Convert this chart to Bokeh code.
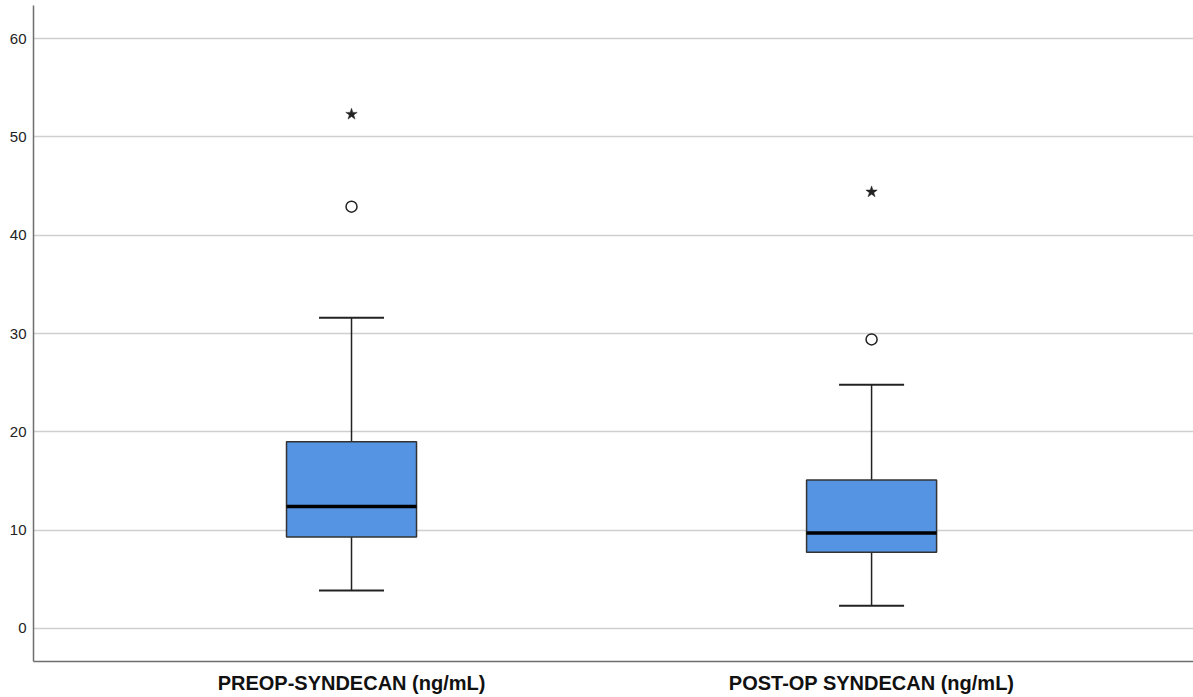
from bokeh.plotting import figure
from bokeh.models import FixedTicker, Range1d
from bokeh.embed import file_html
from bokeh.resources import INLINE

# Data
categories = ["PREOP-SYNDECAN (ng/mL)", "POST-OP SYNDECAN (ng/mL)"]
positions = [1, 2]
whisker_low = [3.86, 2.32]
q1 = [9.3, 7.75]
median = [12.4, 9.7]
q3 = [19.0, 15.1]
whisker_high = [31.6, 24.8]
outlier_circle = [42.9, 29.4]
outlier_star = [52.3, 44.4]
y_ticks = [0, 10, 20, 30, 40, 50, 60]

BOX_W = 0.25
CAP_W = 0.125

p = figure(width=1193, height=697, output_backend="svg", toolbar_location=None,
           x_range=Range1d(0.3885, 2.619), y_range=Range1d(-3.36, 63.36),
           min_border_left=33, min_border_right=0, min_border_top=5, min_border_bottom=36)
p.outline_line_color = None
p.background_fill_color = "white"
p.border_fill_color = "white"

# grid
p.xgrid.grid_line_color = None
p.ygrid.grid_line_color = "#cfcfcf"
p.ygrid.grid_line_width = 1.6
p.ygrid.ticker = FixedTicker(ticks=y_ticks)

# axes
p.yaxis.ticker = FixedTicker(ticks=y_ticks)
p.yaxis.major_tick_line_color = None
p.yaxis.minor_tick_line_color = None
p.yaxis.major_tick_out = 0
p.yaxis.major_tick_in = 0
p.yaxis.minor_tick_out = 0
p.yaxis.axis_line_color = "#6e6e6e"
p.yaxis.axis_line_width = 1.5
p.yaxis.major_label_text_font = "Liberation Sans"
p.yaxis.major_label_text_font_size = "15px"
p.yaxis.major_label_text_color = "#222222"
p.yaxis.major_label_standoff = 7

p.xaxis.ticker = FixedTicker(ticks=positions)
p.xaxis.major_label_overrides = {pos: c for pos, c in zip(positions, categories)}
p.xaxis.major_tick_line_color = None
p.xaxis.minor_tick_line_color = None
p.xaxis.major_tick_out = 0
p.xaxis.major_tick_in = 0
p.xaxis.minor_tick_out = 0
p.xaxis.axis_line_color = "#6e6e6e"
p.xaxis.axis_line_width = 1.5
p.xaxis.major_label_text_font = "Liberation Sans"
p.xaxis.major_label_text_font_size = "20px"
p.xaxis.major_label_text_font_style = "bold"
p.xaxis.major_label_text_color = "#111111"
p.xaxis.major_label_standoff = 10

# whiskers
p.segment(x0=positions, y0=q3, x1=positions, y1=whisker_high, line_color="#222222", line_width=1.5)
p.segment(x0=positions, y0=whisker_low, x1=positions, y1=q1, line_color="#222222", line_width=1.5)
caps_x0 = [x - CAP_W / 2 for x in positions]
caps_x1 = [x + CAP_W / 2 for x in positions]
p.segment(x0=caps_x0, y0=whisker_high, x1=caps_x1, y1=whisker_high, line_color="#222222", line_width=2)
p.segment(x0=caps_x0, y0=whisker_low, x1=caps_x1, y1=whisker_low, line_color="#222222", line_width=2)

# boxes
p.vbar(x=positions, width=BOX_W, bottom=q1, top=q3, fill_color="#5494E3",
       line_color="#333333", line_width=1.5)
# medians
med_x0 = [x - BOX_W / 2 for x in positions]
med_x1 = [x + BOX_W / 2 for x in positions]
p.segment(x0=med_x0, y0=median, x1=med_x1, y1=median, line_color="black", line_width=3.5)

# outliers
p.scatter(x=positions, y=outlier_circle, marker="circle", size=11, fill_color="white",
          line_color="#222222", line_width=1.5)
p.scatter(x=positions, y=outlier_star, marker="star", size=12, fill_color="#222222",
          line_color="#222222", line_width=0.5)

open("out.html", "w").write(file_html(p, INLINE))
